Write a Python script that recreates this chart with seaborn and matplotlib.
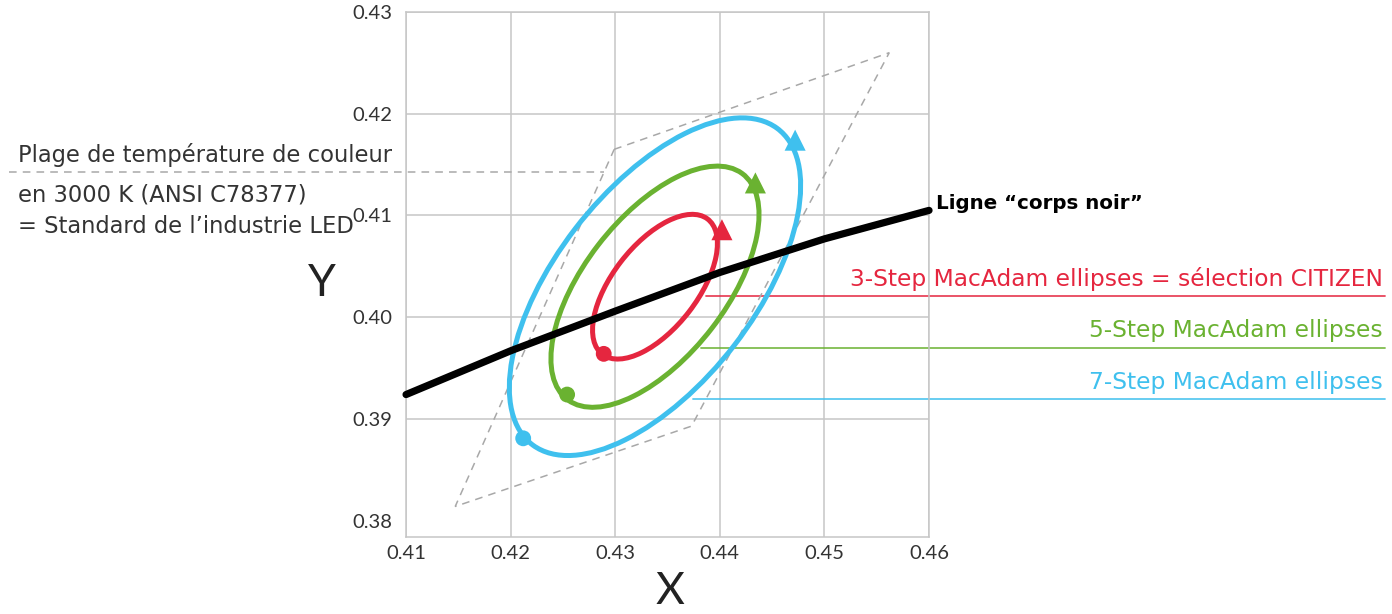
import seaborn as sns
import matplotlib.pyplot as plt
from matplotlib.patches import Ellipse, Polygon

# black body line ("corps noir")
locus_x = [0.41, 0.42, 0.43, 0.44, 0.45, 0.46]
locus_y = [0.3924, 0.3967, 0.4006, 0.4044, 0.4077, 0.4105]

# ANSI C78377 3000 K quadrangle
quad_x = [0.4299, 0.4562, 0.4373, 0.4147]
quad_y = [0.4165, 0.4260, 0.3893, 0.3814]

# MacAdam ellipses (3, 5, 7 steps) around the 3000 K centre
center = (0.4338, 0.4030)
ellipse_angle = 53.2
semi_major = [0.00834, 0.0139, 0.01946]
semi_minor = [0.00408, 0.0068, 0.00952]
start_x = [0.4289, 0.4254, 0.4212]
start_y = [0.3964, 0.3924, 0.3881]
arrow_x = [0.4402, 0.4434, 0.4472]
arrow_y = [0.4086, 0.4132, 0.4174]
colors = ['#e5263f', '#6ab231', '#3fc0ee']
labels = ['3-Step MacAdam ellipses = sélection CITIZEN',
          '5-Step MacAdam ellipses',
          '7-Step MacAdam ellipses']
label_line_y = [0.4021, 0.3970, 0.3920]
label_line_x0 = [0.4387, 0.4382, 0.4374]
label_line_x1 = 0.5036

xticks = [0.41, 0.42, 0.43, 0.44, 0.45, 0.46]
yticks = [0.38, 0.39, 0.40, 0.41, 0.42, 0.43]

sns.set_theme(style='white')
plt.rcParams['font.family'] = ['Lato', 'DejaVu Sans']

fig = plt.figure(figsize=(13.92, 6.14), dpi=100)
ax = fig.add_axes([0.2917, 0.1254, 0.3757, 0.8551])


def fx(px):
    return px / 1392


def fy(py):
    return 1 - py / 614


grey = '#c6c6c6'
ax.set_xlim(0.41, 0.46)
ax.set_ylim(0.3784, 0.43)
ax.set_xticks(xticks)
ax.set_yticks(yticks)
ax.set_xticklabels([f'{v:.2f}' for v in xticks])
ax.set_yticklabels([f'{v:.2f}' for v in yticks])
ax.grid(True, color=grey, lw=1.1)
ax.yaxis.get_gridlines()[0].set_visible(False)
ax.tick_params(length=0, labelsize=14.5, colors='#333333')
ax.tick_params(axis='y', pad=10)
ax.tick_params(axis='x', pad=6)
for s in ax.spines.values():
    s.set_color(grey)
    s.set_linewidth(1.1)

# ANSI quadrangle + leader line to the left text
ax.add_patch(Polygon(list(zip(quad_x, quad_y)), closed=True, fill=False,
                     ec='#a8a8a8', lw=1.1, ls=(0, (5, 4)), zorder=2))
ax.plot([0.3720, 0.4289], [0.4143, 0.4143], color='#a8a8a8', lw=1.1,
        ls=(0, (5, 4)), clip_on=False, zorder=2)

# MacAdam ellipses
for i in range(3):
    ax.add_patch(Ellipse(center, 2 * semi_major[i], 2 * semi_minor[i],
                         angle=ellipse_angle, fill=False, ec=colors[i],
                         lw=3.6, zorder=3))
    ax.plot([label_line_x0[i], label_line_x1], [label_line_y[i]] * 2,
            color=colors[i], lw=1.3, alpha=0.85, clip_on=False, zorder=1)

sns.scatterplot(x=start_x, y=start_y, hue=labels, palette=colors, s=130,
                marker='o', edgecolor='none', legend=False, ax=ax, zorder=5)
sns.scatterplot(x=arrow_x, y=arrow_y, hue=labels, palette=colors, s=230,
                marker='^', edgecolor='none', legend=False, ax=ax, zorder=5)

# black body line
sns.lineplot(x=locus_x, y=locus_y, color='black', lw=5.2, ax=ax, zorder=4,
             solid_capstyle='round', solid_joinstyle='round')
ax.lines[-1].set_clip_on(False)

ax.set_xlabel('')
ax.set_ylabel('')

# texts
body = ['DejaVu Sans']
fig.text(fx(936), fy(204), 'Ligne \u201ccorps noir\u201d', fontsize=14.3,
         fontweight='bold', color='black', ha='left', va='center',
         family=body)
for txt, c, py in zip(labels, colors, [279, 330, 382]):
    fig.text(fx(1383), fy(py), txt, fontsize=16.8, color=c, ha='right',
             va='center', family=body)
left_txt = ['Plage de température de couleur', 'en 3000 K (ANSI C78377)',
            '= Standard de l\u2019industrie LED']
for txt, py in zip(left_txt, [155, 195, 227]):
    fig.text(fx(18), fy(py), txt, fontsize=16.3, color='#333333',
             ha='left', va='center', family=body)
fig.text(fx(670), fy(592), 'X', fontsize=32, fontweight='normal',
         color='#222222', ha='center', va='center')
fig.text(fx(322), fy(283), 'Y', fontsize=32, fontweight='normal',
         color='#222222', ha='center', va='center')

fig.savefig('out.png', dpi=100, facecolor='white')
